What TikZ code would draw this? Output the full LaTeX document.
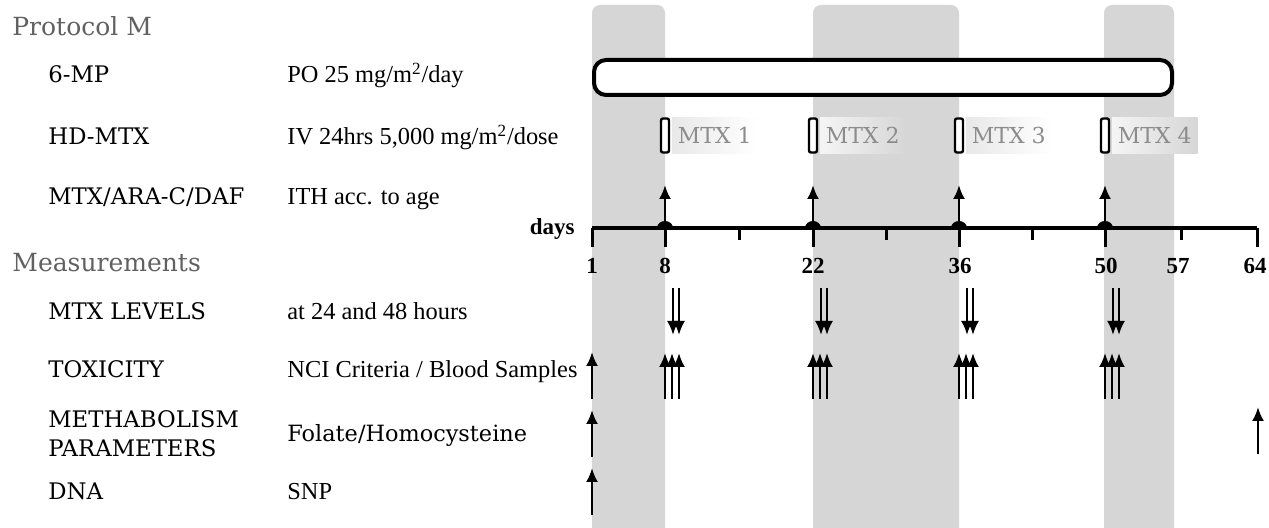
\documentclass[tikz,border=0pt]{standalone}
\usepackage{fontspec}
\setmainfont{DejaVu Serif}
\newfontfamily\timesfont{Liberation Serif}
\usetikzlibrary{arrows.meta,calc,positioning}

\tikzset{
  band/.style={fill=black!16, rounded corners=4pt},
  head/.style={font=\fontsize{12.5}{15}\selectfont, text=black!62, anchor=base west, inner sep=0pt},
  item/.style={font=\fontsize{11.4}{14}\selectfont, anchor=base west, inner sep=0pt},
  desc/.style={font=\timesfont\fontsize{12.2}{14}\selectfont, anchor=base west, inner sep=0pt},
  daylbl/.style={font=\timesfont\bfseries\fontsize{11.5}{13}\selectfont, anchor=base, inner sep=0pt},
  bar/.style={draw, line width=2pt, fill=white, rounded corners=6pt},
  mtxbox/.style={draw, line width=1.2pt, fill=white, rounded corners=1pt, minimum width=4pt, minimum height=17pt, inner sep=0pt},
  mtxlbl/.style={font=\fontsize{11}{13}\selectfont, text=black!45, minimum height=18.2pt, inner xsep=3pt, inner ysep=0pt},
  fadew/.style={left color=black!9, right color=white},
  fadeg/.style={left color=black!4, right color=black!16},
  arr/.style={-{Latex[length=7pt,width=6pt]}, line width=1.2pt},
  axis/.style={line width=1.8pt},
  tick/.style={line width=1.5pt},
}

\begin{document}
\begin{tikzpicture}[x=0.5pt, y=-0.5pt]
  \useasboundingbox (0,0) rectangle (1269,528);
  \fill[white] (0,0) rectangle (1269,528);

  \fill[band] (592,5) rectangle (665,545);
  \fill[band] (813,5) rectangle (959,545);
  \fill[band] (1104,5) rectangle (1174,545);

  \foreach \d/\x in {1/592,8/665,15/739,22/813,29/886,36/959,43/1032,50/1105,57/1181,64/1257}
    \coordinate (d\d) at (\x,228);

  \node[head] (proto) at (12,36) {Protocol M};
  \node[item] (mp) at (48,83) {6-MP};
  \node[desc] (mpd) at (287,83) {PO 25 mg/m\textsuperscript{2}/day};
  \node[item] (hd) at (48,145) {HD-MTX};
  \node[desc] (hdd) at (287,145) {IV 24hrs 5,000 mg/m\textsuperscript{2}/dose};
  \node[item] (ith) at (48,205) {MTX/ARA-C/DAF};
  \node[desc] (ithd) at (287,205) {ITH acc. to age};
  \node[head] (meas) at (12,272) {Measurements};
  \node[item] (lev) at (48,320) {MTX LEVELS};
  \node[desc] (levd) at (287,320) {at 24 and 48 hours};
  \node[item] (tox) at (48,378) {TOXICITY};
  \node[desc] (toxd) at (287,378) {NCI Criteria / Blood Samples};
  \node[item] (met) at (48,428) {METHABOLISM};
  \node[item] (par) at (48,457) {PARAMETERS};
  \node[item, font=\fontsize{11.2}{14}\selectfont] (metd) at (287,442) {Folate/Homocysteine};
  \node[item] (dna) at (48,500) {DNA};
  \node[desc] (dnad) at (287,500) {SNP};

  \node[bar, minimum width=289pt, minimum height=17.5pt] (mpbar) at (883,77.5) {};

  \foreach \i/\d/\f in {1/8/fadew,2/22/fadeg,3/36/fadew,4/50/fadeg} {
    \node[mtxbox] (m\i) at ($(d\d)+(0,-92.5)$) {};
    \node[mtxlbl, \f, right=0.6pt of m\i] (t\i) {MTX \i};
  }

  \draw[axis] (d1) -- (d64);
  \foreach \d in {1,8,22,36,50,64}
    \draw[tick] (d\d) -- ++(0,19);
  \foreach \d in {15,29,43,57}
    \draw[tick] (d\d) -- ++(0,12);
  \node[daylbl, anchor=base east] (days) at (575,235) {days};
  \foreach \d/\x in {1/592,8/665,22/813,36/960,50/1106,57/1178,64/1255}
    \node[daylbl] (l\d) at (\x,274) {\d};

  \foreach \d in {8,22,36,50} {
    \fill ($(d\d)+(-8,0)$) arc[start angle=180, end angle=0, x radius=4pt, y radius=3.5pt] -- cycle;
    \coordinate (i\d) at ($(d\d)+(0,-43)$);
    \draw[arr] (d\d) -- (i\d);
    \foreach \o in {8,14} {
      \coordinate (lv\d-\o) at ($(d\d)+(\o,60)$);
      \coordinate (lw\d-\o) at ($(d\d)+(\o,107)$);
      \draw[arr] (lv\d-\o) -- (lw\d-\o);
    }
    \foreach \o in {0,7,14} {
      \coordinate (tx\d-\o) at ($(d\d)+(\o,171)$);
      \coordinate (ty\d-\o) at ($(d\d)+(\o,125)$);
      \draw[arr] (tx\d-\o) -- (ty\d-\o);
    }
  }

  \foreach \n/\a in {tox/171,met/229,dna/287} {
    \coordinate (\n a) at ($(d1)+(0,\a)$);
    \coordinate (\n b) at ($(d1)+(0,\a-47)$);
    \draw[arr] (\n a) -- (\n b);
  }
  \coordinate (end a) at ($(d64)+(1,226)$);
  \coordinate (end b) at ($(d64)+(1,179)$);
  \draw[arr] (end a) -- (end b);
\end{tikzpicture}
\end{document}
